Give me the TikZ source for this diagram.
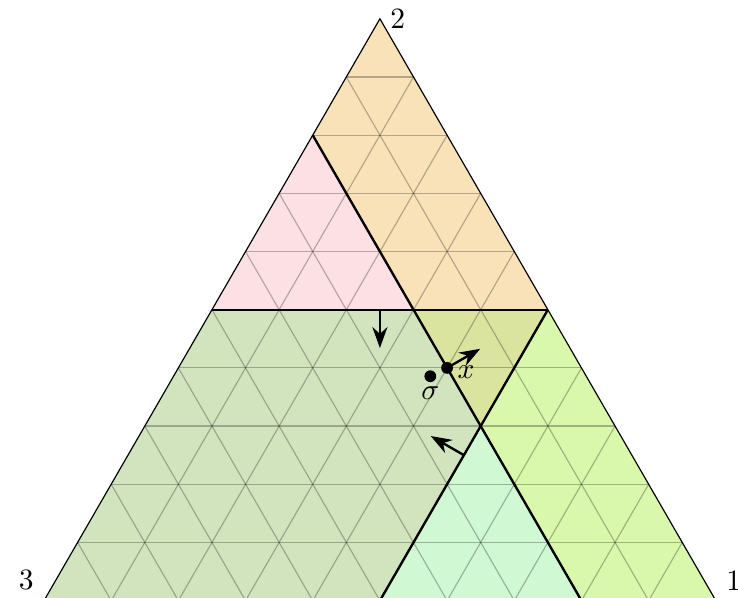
\documentclass[tikz,border=0pt]{standalone}
\usetikzlibrary{arrows.meta}
\definecolor{regorange}{RGB}{250,226,184}
\definecolor{regpink}{RGB}{252,224,228}
\definecolor{reggreen}{RGB}{210,228,190}
\definecolor{regolive}{RGB}{218,228,158}
\definecolor{reglime}{RGB}{218,248,172}
\definecolor{regmint}{RGB}{208,248,210}
\begin{document}
\begin{tikzpicture}[x=0.8cm,y=0.8cm,
    gridline/.style={black,opacity=0.27},
    border/.style={thick},
    arr/.style={thick,-{Stealth[length=2.5mm,width=1.8mm]}},
    dot/.style={circle,fill,inner sep=0pt,minimum size=4pt}]
  \useasboundingbox (-0.655,0.04) rectangle (10.33,8.94);
  \coordinate (v3) at (0,0);
  \coordinate (v1) at (10,0);
  \coordinate (v2) at (5,8.660);
  \coordinate (a) at (4,6.928);
  \coordinate (b) at (5.5,4.330);
  \coordinate (c) at (2.5,4.330);
  \coordinate (d) at (7.5,4.330);
  \coordinate (e) at (6.5,2.598);
  \coordinate (f) at (5,0);
  \coordinate (g) at (8,0);
  % regions
  \fill[regorange] (a) -- (v2) -- (d) -- (b) -- cycle;
  \fill[regpink] (a) -- (b) -- (c) -- cycle;
  \fill[reggreen] (c) -- (b) -- (e) -- (f) -- (v3) -- cycle;
  \fill[regolive] (b) -- (d) -- (e) -- cycle;
  \fill[reglime] (d) -- (v1) -- (g) -- (e) -- cycle;
  \fill[regmint] (e) -- (g) -- (f) -- cycle;
  % grid
  \foreach \k in {1,...,9} {
    \draw[gridline] ({\k/2},{\k*0.866}) -- ({10-\k/2},{\k*0.866});
    \draw[gridline] (\k,0) -- ({\k/2},{\k*0.866});
    \draw[gridline] (\k,0) -- ({5+\k/2},{(10-\k)*0.866});
  }
  \draw (v1) -- (v2) -- (v3) -- cycle;
  % boundaries
  \draw[border] (a) -- (g);
  \draw[border] (d) -- (f);
  \draw[border] (c) -- (d);
  % normals
  \coordinate (ta) at (5,3.760);
  \coordinate (tb) at (5.756,2.450);
  \coordinate (tc) at (6.494,3.749);
  \node[dot] (x) at (6,3.464) {};
  \node[dot] (s) at (5.75,3.34) {};
  \draw[arr] (5,4.330) -- (ta);
  \draw[arr] (6.25,2.165) -- (tb);
  \draw[arr] (x.center) -- (tc);
  \node[right,yshift=-1.5pt] (xl) at (x) {$x$};
  \node[below] (sl) at (s) {$\sigma$};
  \node[right] (l2) at (v2) {2};
  \node[above left] (l3) at (v3) {3};
  \node[above right] (l1) at (v1) {1};
\end{tikzpicture}
\end{document}
